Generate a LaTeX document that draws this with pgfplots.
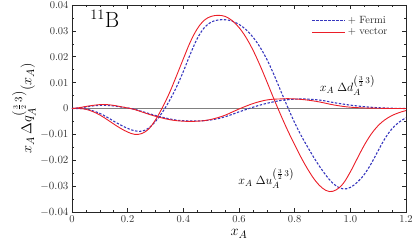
\documentclass[border=0pt]{standalone}
\usepackage{pgfplots}
\pgfplotsset{compat=1.18}
\definecolor{vred}{RGB}{235,30,40}
\definecolor{fblue}{RGB}{55,55,190}
\begin{document}
\begin{tikzpicture}
\begin{axis}[
  scale only axis, width=334pt, height=207pt,
  xmin=0, xmax=1.2, ymin=-0.04, ymax=0.04,
  xtick={0,0.2,0.4,0.6,0.8,1.0,1.2},
  xticklabels={0,0.2,0.4,0.6,0.8,1.0,1.2},
  ytick={-0.04,-0.03,-0.02,-0.01,0,0.01,0.02,0.03,0.04},
  yticklabels={$-0.04$,$-0.03$,$-0.02$,$-0.01$,0,0.01,0.02,0.03,0.04},
  minor x tick num=3, minor y tick num=1,
  tick align=inside, major tick length=4pt, minor tick length=2.2pt,
  axis line style={line width=0.8pt, black!85},
  every tick/.style={black!85, line width=0.6pt},
  ticklabel style={font=\fontsize{10.5}{12}\selectfont, text=black!80},
  xlabel={$x_A$}, ylabel={$x_A\,\Delta q_A^{\left(\frac{3}{2}\,3\right)}(x_A)$},
  label style={font=\fontsize{15}{18}\selectfont},
  ylabel style={yshift=-2pt},
  legend style={at={(0.96,0.965)}, anchor=north east, draw=none, fill=none,
     font=\fontsize{10.5}{12}\selectfont, row sep=-1pt, text=black!85},
  legend cell align=left,
  legend image code/.code={\draw[#1] (0pt,0pt) -- (33pt,0pt);},
]
% zero line
\addplot[black!50, line width=1.3pt, forget plot] coordinates {(0,0) (1.2,0)};
% Fermi u
\addplot[fblue, line width=1.1pt, dash pattern=on 2.4pt off 1.6pt, smooth, tension=0.6] coordinates {
(0,0) (0.025,0) (0.05,-0.0002) (0.075,-0.0009) (0.1,-0.0019) (0.125,-0.0033) (0.15,-0.0049)
(0.175,-0.0064) (0.2,-0.0077) (0.225,-0.0086) (0.25,-0.0088) (0.275,-0.0076) (0.3,-0.0050)
(0.325,-0.0014) (0.35,0.0030) (0.375,0.0082) (0.4,0.0143) (0.425,0.0210) (0.45,0.0270)
(0.475,0.0312) (0.5,0.0334) (0.525,0.0342) (0.55,0.0343) (0.575,0.0338) (0.6,0.0325)
(0.625,0.0305) (0.65,0.0276) (0.675,0.0238) (0.7,0.0190) (0.725,0.0132) (0.75,0.0068)
(0.775,0.0005) (0.8,-0.0055) (0.825,-0.0108) (0.85,-0.0155) (0.875,-0.0200) (0.9,-0.0240)
(0.925,-0.0275) (0.95,-0.0300) (0.975,-0.0311) (1.0,-0.0305) (1.025,-0.0285) (1.05,-0.0255)
(1.075,-0.0213) (1.1,-0.0163) (1.125,-0.0115) (1.15,-0.0078) (1.175,-0.0053) (1.2,-0.0036)};
\addlegendentry{+ Fermi}
% vector u
\addplot[vred, line width=0.9pt, smooth, tension=0.6] coordinates {
(0,0) (0.025,0) (0.05,-0.0003) (0.075,-0.0012) (0.1,-0.0025) (0.125,-0.0042) (0.15,-0.0060)
(0.175,-0.0077) (0.2,-0.0091) (0.225,-0.0100) (0.25,-0.0097) (0.275,-0.0080) (0.3,-0.0044)
(0.325,0.0004) (0.35,0.0060) (0.375,0.0125) (0.4,0.0192) (0.425,0.0257) (0.45,0.0308)
(0.475,0.0341) (0.5,0.0356) (0.525,0.0360) (0.55,0.0356) (0.575,0.0340) (0.6,0.0313)
(0.625,0.0275) (0.65,0.0226) (0.675,0.0168) (0.7,0.0104) (0.725,0.0038) (0.75,-0.0025)
(0.775,-0.0085) (0.8,-0.0140) (0.825,-0.0193) (0.85,-0.0240) (0.875,-0.0280) (0.9,-0.0308)
(0.925,-0.0321) (0.95,-0.0314) (0.975,-0.0289) (1.0,-0.0245) (1.025,-0.0193) (1.05,-0.0142)
(1.075,-0.0099) (1.1,-0.0066) (1.125,-0.0043) (1.15,-0.0027) (1.175,-0.0016) (1.2,-0.0008)};
\addlegendentry{+ vector}
% Fermi d
\addplot[fblue, line width=1.1pt, dash pattern=on 2.4pt off 1.6pt, smooth, tension=0.6, forget plot] coordinates {
(0,0) (0.025,0.0002) (0.05,0.0006) (0.075,0.0010) (0.1,0.0012) (0.125,0.0012) (0.15,0.0010)
(0.175,0.0006) (0.2,0.0002) (0.225,-0.0003) (0.25,-0.0011) (0.275,-0.0019) (0.3,-0.0027)
(0.325,-0.0034) (0.35,-0.0040) (0.375,-0.0045) (0.4,-0.0047) (0.425,-0.0048) (0.45,-0.0048)
(0.475,-0.0047) (0.5,-0.0044) (0.525,-0.0039) (0.55,-0.0032) (0.575,-0.0023) (0.6,-0.0013)
(0.625,-0.0004) (0.65,0.0005) (0.675,0.0013) (0.7,0.0020) (0.725,0.0026) (0.75,0.0031)
(0.775,0.0034) (0.8,0.0036) (0.825,0.0037) (0.85,0.0036) (0.875,0.0034) (0.9,0.0031)
(0.925,0.0026) (0.95,0.0021) (0.975,0.0017) (1.0,0.0013) (1.05,0.0007) (1.1,0.0003)
(1.15,0.0001) (1.2,0)};
% vector d
\addplot[vred, line width=0.9pt, smooth, tension=0.6, forget plot] coordinates {
(0,0) (0.025,0.0003) (0.05,0.0008) (0.075,0.0012) (0.1,0.0015) (0.125,0.0015) (0.15,0.0012)
(0.175,0.0007) (0.2,0.0002) (0.225,-0.0004) (0.25,-0.0013) (0.275,-0.0022) (0.3,-0.0030)
(0.325,-0.0037) (0.35,-0.0043) (0.375,-0.0047) (0.4,-0.0049) (0.425,-0.0050) (0.45,-0.0049)
(0.475,-0.0047) (0.5,-0.0042) (0.525,-0.0035) (0.55,-0.0026) (0.575,-0.0014) (0.6,-0.0002)
(0.625,0.0009) (0.65,0.0019) (0.675,0.0027) (0.7,0.0033) (0.725,0.0036) (0.75,0.0037)
(0.775,0.0038) (0.8,0.0037) (0.825,0.0035) (0.85,0.0032) (0.875,0.0028) (0.9,0.0023)
(0.925,0.0017) (0.95,0.0012) (0.975,0.0008) (1.0,0.0005) (1.05,0.0002) (1.1,0.0001)
(1.15,0) (1.2,0)};
\node[anchor=base west, font=\fontsize{12.5}{14}\selectfont, inner sep=0pt] at (axis cs:0.89,0.0065) {$x_A\;\Delta d_A^{\left(\frac{3}{2}\,3\right)}$};
\node[anchor=base west, font=\fontsize{12.5}{14}\selectfont, inner sep=0pt] at (axis cs:0.597,-0.0295) {$x_A\;\Delta u_A^{\left(\frac{3}{2}\,3\right)}$};
\node[anchor=base west, font=\fontsize{22}{26}\selectfont, inner sep=0pt] at (axis cs:0.065,0.0313) {$^{11}$B};
\end{axis}
\pgfresetboundingbox
\path ([shift={(-72pt,-36pt)}]current axis.south west) rectangle ([shift={(9pt,5pt)}]current axis.north east);
\end{tikzpicture}
\end{document}
